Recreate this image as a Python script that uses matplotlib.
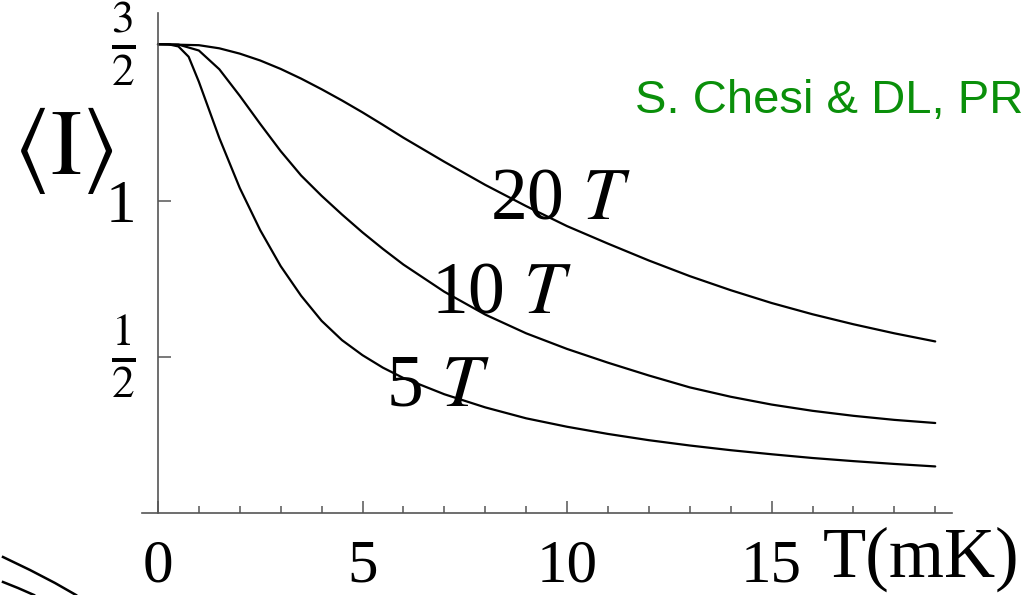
import matplotlib
matplotlib.use("Agg")
import matplotlib.pyplot as plt
from matplotlib.lines import Line2D

plt.rcParams['font.family'] = ['Liberation Serif', 'DejaVu Serif']
plt.rcParams['mathtext.fontset'] = 'stix'

# <I> vs temperature for three magnetic fields
t_20 = [0, 1, 1.5, 2, 2.5, 3, 3.5, 4, 4.5, 5, 5.5, 6, 7, 8, 9, 10, 11, 12, 13, 14, 15, 16,
        17, 18, 19]
i_20 = [1.5, 1.497, 1.487, 1.470, 1.448, 1.421, 1.390, 1.356, 1.320, 1.282, 1.242, 1.201,
        1.124, 1.050, 0.982, 0.918, 0.862, 0.808, 0.758, 0.713, 0.672, 0.636, 0.604,
        0.575, 0.549]

t_10 = [0, 0.5, 1, 1.5, 2, 2.5, 3, 3.5, 4, 4.5, 5, 5.5, 6, 7, 8, 9, 10, 11, 12, 13, 14, 15,
        16, 17, 18, 19]
i_10 = [1.5, 1.499, 1.480, 1.420, 1.335, 1.245, 1.158, 1.080, 1.015, 0.955, 0.898, 0.845,
        0.795, 0.708, 0.635, 0.575, 0.525, 0.481, 0.440, 0.402, 0.372, 0.347, 0.327,
        0.311, 0.298, 0.288]

t_5 = [0, 0.25, 0.5, 0.75, 1, 1.25, 1.5, 2, 2.5, 3, 3.5, 4, 4.5, 5, 5.5, 6, 7, 8, 9, 10,
       11, 12, 13, 14, 15, 16, 17, 18, 19]
i_5 = [1.5, 1.5, 1.493, 1.46, 1.38, 1.29, 1.2, 1.04, 0.905, 0.79, 0.695, 0.615, 0.553,
       0.505, 0.465, 0.432, 0.38, 0.338, 0.303, 0.276, 0.253, 0.233, 0.216, 0.201, 0.188,
       0.176, 0.166, 0.157, 0.149]

curve_labels = ['20 $T$', '10 $T$', '5 $T$']
label_pos = [(9.83, 1.0), (8.39, 0.697), (6.85, 0.40)]

x_major = [0, 5, 10, 15]
x_minor = list(range(0, 20))
y_ticks = [0.5, 1.0, 1.5]
y_ticklabels = [r'$\frac{1}{2}$', '1', r'$\frac{3}{2}$']

W, H = 1028, 595
fig = plt.figure(figsize=(W / 100, H / 100), dpi=100)
ax = fig.add_axes([142 / W, 82 / H, 810 / W, 500 / H])

for t, i in [(t_20, i_20), (t_10, i_10), (t_5, i_5)]:
    ax.plot(t, i, color='black', lw=1.6, solid_capstyle='round')

for txt, (x, y) in zip(curve_labels, label_pos):
    ax.text(x, y, txt, fontsize=53, ha='center', va='center')

ax.set_xlim(-0.39, 19.41)
ax.set_ylim(0, 1.6)

axis_col = '#555555'
for s in ['top', 'right']:
    ax.spines[s].set_visible(False)
ax.spines['left'].set_position(('data', 0))
ax.spines['left'].set_color(axis_col)
ax.spines['bottom'].set_color(axis_col)
ax.spines['left'].set_linewidth(1.2)
ax.spines['bottom'].set_linewidth(1.2)

ax.set_xticks(x_major)
ax.set_xticklabels(['0', '5', '10', '15'])
ax.set_xticks(x_minor, minor=True)
ax.tick_params(axis='x', which='major', direction='in', length=9, width=1.1,
               color=axis_col, labelsize=44, pad=19)
ax.tick_params(axis='x', which='minor', direction='in', length=5, width=1.1,
               color=axis_col)
ax.set_yticks(y_ticks)
ax.set_yticklabels(y_ticklabels)
ax.tick_params(axis='y', direction='in', length=9, width=1.1, color=axis_col,
               labelsize=44, pad=16)
# stacked fractions, with the bar level with the tick
for lab in ax.get_yticklabels():
    if 'frac' in lab.get_text():
        lab.set_fontsize(47)
        lab.set_va('center')

fig.text(823 / W, 1 - 577 / H, 'T(mK)', fontsize=51, ha='left', va='baseline')
fig.text(63 / W, 1 - 150 / H, r'$\langle\mathrm{I}\rangle$', fontsize=67,
         ha='center', va='center')
fig.text(635 / W, 1 - 113 / H, 'S. Chesi & DL, PR', fontsize=34, color='#0a8f0a',
         family='Liberation Sans', ha='left', va='baseline')

# stray strokes in the lower left corner
fig.add_artist(Line2D([3 / W, 30 / W, 55 / W, 76 / W],
                      [1 - 557 / H, 1 - 570 / H, 1 - 583 / H, 1 - 595 / H],
                      color='black', lw=1.8, transform=fig.transFigure))
fig.add_artist(Line2D([3 / W, 18 / W, 34 / W],
                      [1 - 582 / H, 1 - 588 / H, 1 - 595 / H],
                      color='black', lw=1.8, transform=fig.transFigure))

fig.savefig('out.png', dpi=100)
